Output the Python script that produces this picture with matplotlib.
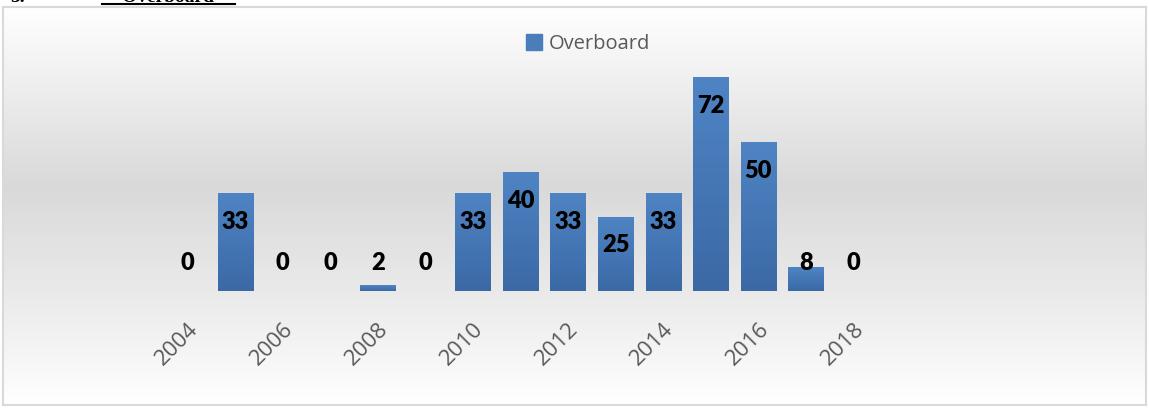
import numpy as np
import matplotlib.pyplot as plt
from matplotlib.colors import LinearSegmentedColormap
from matplotlib.patches import Rectangle

# data
years = [2004, 2005, 2006, 2007, 2008, 2009, 2010, 2011, 2012, 2013, 2014, 2015, 2016, 2017, 2018]
overboard = [0, 33, 0, 0, 2, 0, 33, 40, 33, 25, 33, 72, 50, 8, 0]
tick_years = [2004, 2006, 2008, 2010, 2012, 2014, 2016, 2018]

W, H = 1149, 408
fig = plt.figure(figsize=(W / 100, H / 100), dpi=100)
fig.patch.set_facecolor('white')

# chart area background with vertical gradient (white - grey - white)
bg = fig.add_axes([3 / W, 3 / H, 1143 / W, 398 / H])
bg_cmap = LinearSegmentedColormap.from_list(
    'bg', [(0, '#ffffff'), (0.45, '#d9d9d9'), (0.75, '#ececec'), (1, '#ffffff')])
grad = np.linspace(0, 1, 256).reshape(-1, 1)
bg.imshow(grad, aspect='auto', cmap=bg_cmap, extent=[0, 1, 0, 1], origin='upper')
bg.set_xlim(0, 1)
bg.set_ylim(0, 1)
bg.set_xticks([])
bg.set_yticks([])
for s in bg.spines.values():
    s.set_color('#d9d9d9')
    s.set_linewidth(1.5)

# heading of the page, mostly cut off at the top edge
fig.text(10 / W, 1 - 1.5 / H, '5.', fontsize=14, fontweight='bold',
         family='Liberation Serif', va='baseline', ha='left')
fig.text(168 / W, 1 - 1.5 / H, 'Overboard', fontsize=14, fontweight='bold',
         family='Liberation Serif', va='baseline', ha='center')
fig.add_artist(plt.Line2D([102 / W, 235 / W], [1 - 4 / H, 1 - 4 / H],
                          color='black', lw=1.5, transform=fig.transFigure))

ax = fig.add_axes([164 / W, 117 / H, 713 / W, 238 / H])
ax.patch.set_alpha(0)
x = np.arange(len(years))
bars = ax.bar(x, overboard, width=0.74, color='#4a7ebb', label='Overboard', zorder=3)

# subtle vertical gradient on each bar
bar_cmap = LinearSegmentedColormap.from_list('bar', ['#3b69a6', '#4f84c4'])
for b in bars:
    if b.get_height() <= 0:
        continue
    im = ax.imshow(np.linspace(0, 1, 64).reshape(-1, 1), cmap=bar_cmap, aspect='auto',
                   origin='lower', extent=[b.get_x(), b.get_x() + b.get_width(), 0, b.get_height()],
                   zorder=4)
    im.set_clip_path(b)

ax.set_xlim(-0.5, len(years) - 0.5)
ax.set_ylim(0, 80)

for xi, v in zip(x, overboard):
    ax.text(xi, max(v - 9.7, 9.3), str(v), ha='center', va='center',
            fontsize=17, fontweight='heavy', family='Lato', color='black', zorder=5)

ax.set_yticks([])
ax.set_xticks([years.index(y) for y in tick_years])
ax.set_xticklabels([str(y) for y in tick_years], rotation=45, ha='right', va='top',
                   rotation_mode='anchor', fontsize=16, color='#595959', family='Open Sans')
ax.tick_params(axis='x', length=0, pad=20)
for s in ax.spines.values():
    s.set_visible(False)

fig.legend(handles=[Rectangle((0, 0), 1, 1, color='#4a7ebb')], labels=['Overboard'],
           loc='center', bbox_to_anchor=(588 / W, 1 - 44 / H), frameon=False,
           prop={'family': 'Open Sans', 'size': 14.5}, labelcolor='#595959',
           handlelength=0.8, handleheight=0.8, handletextpad=0.3)

fig.savefig('out.png', dpi=100)
